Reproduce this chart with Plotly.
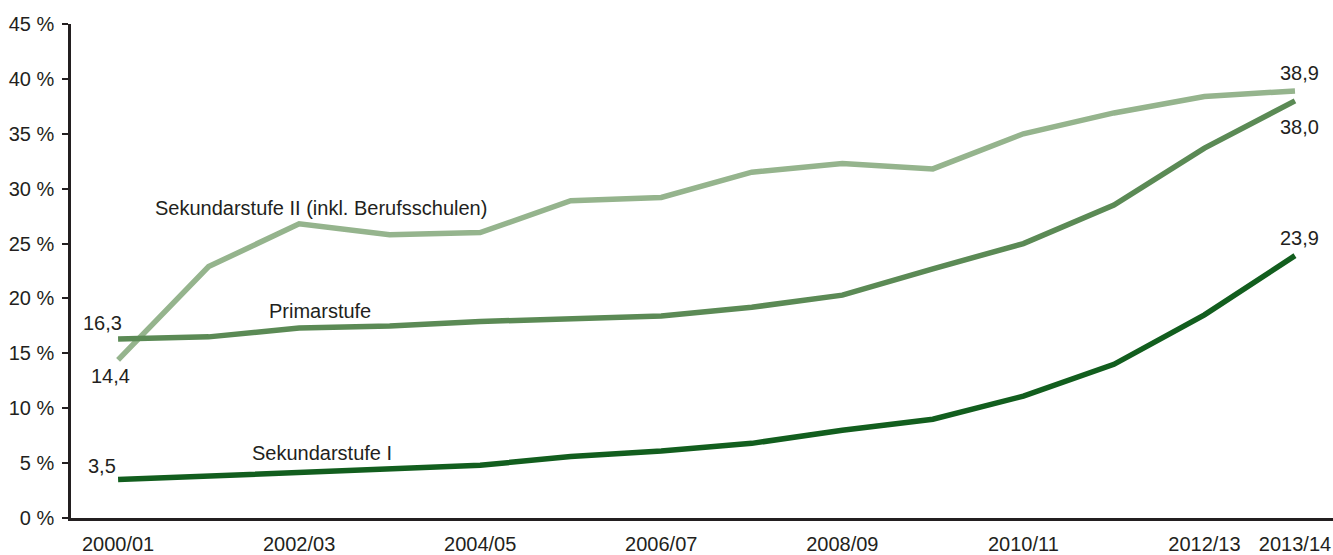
import plotly.graph_objects as go

years = ["2000/01", "2001/02", "2002/03", "2003/04", "2004/05", "2005/06", "2006/07",
         "2007/08", "2008/09", "2009/10", "2010/11", "2011/12", "2012/13", "2013/14"]
tick_labels = ["2000/01", "2002/03", "2004/05", "2006/07", "2008/09", "2010/11", "2012/13", "2013/14"]
sek2 = [14.4, 22.9, 26.8, 25.8, 26.0, 28.9, 29.2, 31.5, 32.3, 31.8, 35.0, 36.9, 38.4, 38.9]
primar = [16.3, 16.5, 17.3, 17.5, 17.9, 18.2, 18.4, 19.2, 20.3, 22.7, 25.0, 28.5, 33.7, 38.0]
sek1 = [3.5, 3.8, 4.2, 4.4, 4.8, 5.6, 6.1, 6.8, 8.0, 9.0, 11.1, 14.0, 18.5, 23.9]
y_ticks = [0, 5, 10, 15, 20, 25, 30, 35, 40, 45]

series = [
    ("Sekundarstufe II (inkl. Berufsschulen)", sek2, "#95b48d"),
    ("Primarstufe", primar, "#5b8a55"),
    ("Sekundarstufe I", sek1, "#125e1e"),
]

FONT = "Liberation Sans, Arial, sans-serif"
TXT = "#231f20"
xs = list(range(len(years)))

fig = go.Figure()
for name, vals, col in series:
    fig.add_trace(go.Scatter(x=xs, y=vals, mode="lines", name=name,
                             line=dict(color=col, width=5.5), showlegend=False))

def fmt(v):
    return f"{v:.1f}".replace(".", ",")

anns = []
# first / last value labels
anns.append(dict(x=0, y=primar[0], text=fmt(primar[0]), xshift=-16, yshift=16))
anns.append(dict(x=0, y=sek2[0], text=fmt(sek2[0]), xshift=-8, yshift=-16))
anns.append(dict(x=0, y=sek1[0], text=fmt(sek1[0]), xshift=-16, yshift=14))
last = len(years) - 1
anns.append(dict(x=last, y=sek2[last], text=fmt(sek2[last]), xshift=5, yshift=18))
anns.append(dict(x=last, y=primar[last], text=fmt(primar[last]), xshift=5, yshift=-26))
anns.append(dict(x=last, y=sek1[last], text=fmt(sek1[last]), xshift=5, yshift=18))
# series name labels
anns.append(dict(x=2.24, y=28.2, text=series[0][0]))
anns.append(dict(x=2.23, y=18.85, text=series[1][0]))
anns.append(dict(x=2.25, y=5.9, text=series[2][0]))
for a in anns:
    a.update(xref="x", yref="y", showarrow=False,
             font=dict(family=FONT, size=20, color=TXT))
    fig.add_annotation(**a)

fig.update_layout(
    width=1333, height=555,
    margin=dict(l=71, r=0, t=24, b=37),
    paper_bgcolor="white", plot_bgcolor="white",
    font=dict(family=FONT, size=20, color=TXT),
    xaxis=dict(range=[-0.52, 13.42], showgrid=False, zeroline=False,
               automargin=False,
               showline=True, linecolor=TXT, linewidth=2.5,
               tickmode="array",
               tickvals=[years.index(t) for t in tick_labels],
               ticktext=tick_labels, ticks="", ticklabelstandoff=6,
               tickfont=dict(family=FONT, size=20, color=TXT)),
    yaxis=dict(range=[0, 45], showgrid=False, zeroline=False,
               automargin=False,
               showline=True, linecolor=TXT, linewidth=2.5,
               tickmode="array", tickvals=y_ticks,
               ticktext=[f"{v} %" for v in y_ticks],
               ticks="outside", ticklen=6, tickwidth=2, tickcolor=TXT,
               ticklabelstandoff=4,
               tickfont=dict(family=FONT, size=20, color=TXT)),
)

fig.write_html("out.html",
               config={"displayModeBar": False},
               post_script="document.body.style.margin='0';document.body.style.overflow='hidden';")
